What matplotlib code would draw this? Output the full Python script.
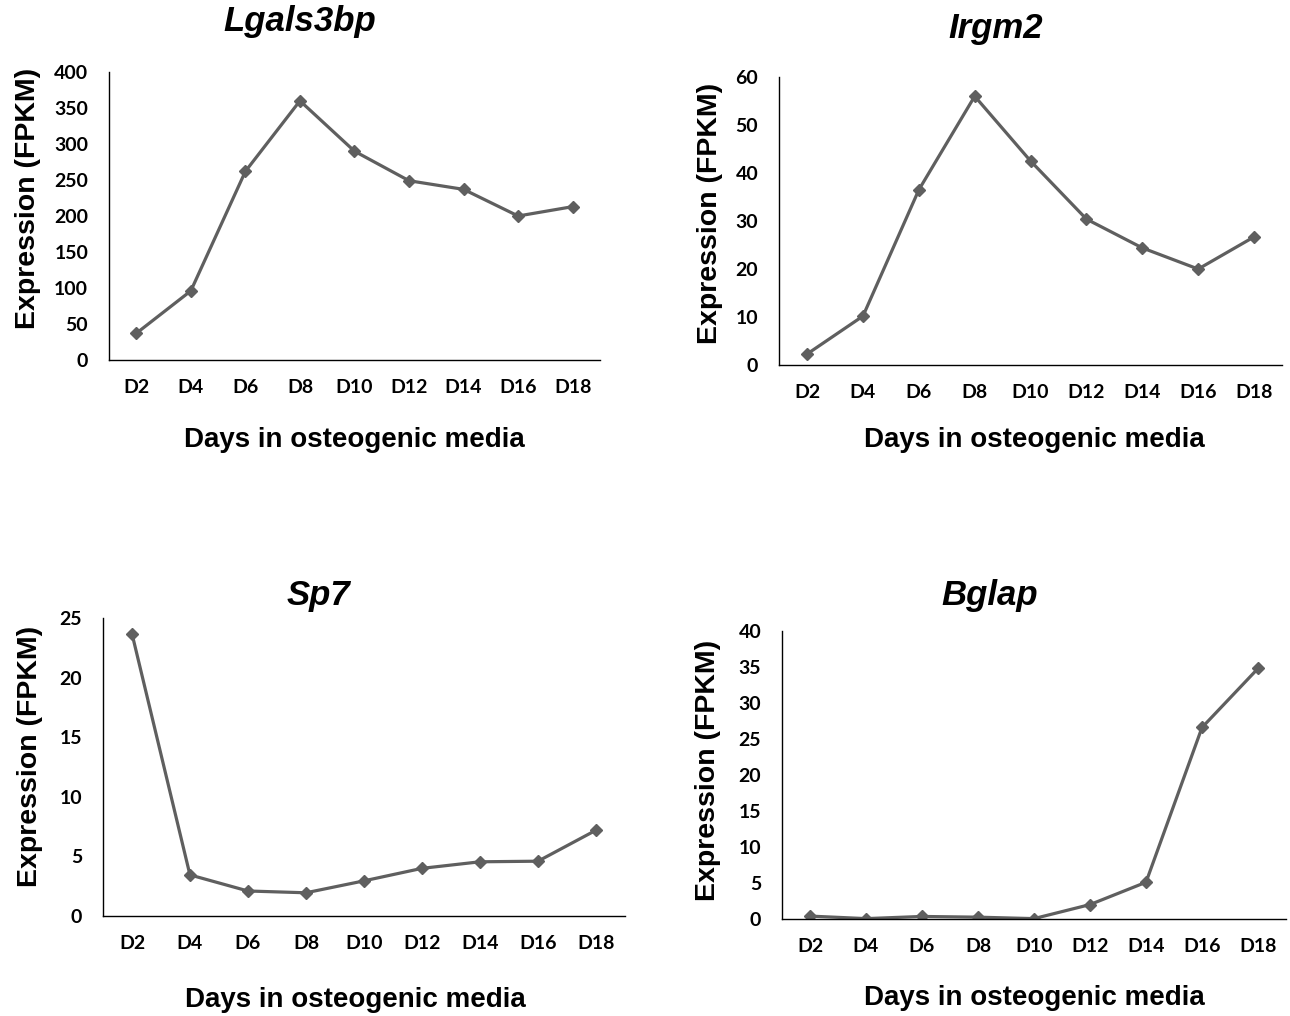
import matplotlib
matplotlib.use("Agg")
import matplotlib.pyplot as plt

### data
days = ["D2", "D4", "D6", "D8", "D10", "D12", "D14", "D16", "D18"]

lgals3bp = [37, 96, 262, 360, 290, 249, 237, 200, 213]
irgm2 = [2.3, 10.2, 36.5, 56, 42.5, 30.4, 24.4, 20, 26.7]
sp7 = [23.7, 3.45, 2.1, 1.95, 2.95, 4.0, 4.55, 4.6, 7.2]
bglap = [0.4, 0.05, 0.35, 0.25, 0.05, 2.0, 5.1, 26.6, 34.8]

line_color = "#5f5f5f"
tick_font = "Lato"
label_font = ["Liberation Sans", "DejaVu Sans"]

fig = plt.figure(figsize=(12.9, 10.16), dpi=100)

# name, values, ymax, ystep, axes rect, title pos, ylabel pos, xlabel pos
panels = [
    ("Lgals3bp", lgals3bp, 400, 50, [0.0845, 0.6457, 0.3806, 0.2834],
     (0.389, 1.174), (-0.165, 0.5625), (0.50, -0.278)),
    ("Irgm2", irgm2, 60, 10, [0.604, 0.6407, 0.3898, 0.2835],
     (0.431, 1.17), (-0.137, 0.528), (0.507, -0.26)),
    ("Sp7", sp7, 25, 5, [0.0798, 0.0984, 0.4047, 0.2933],
     (0.412, 1.077), (-0.14, 0.534), (0.483, -0.282)),
    ("Bglap", bglap, 40, 5, [0.6062, 0.0955, 0.3907, 0.2834],
     (0.413, 1.125), (-0.147, 0.517), (0.5, -0.274)),
]

for name, vals, ymax, ystep, rect, tpos, ypos, xpos in panels:
    ax = fig.add_axes(rect)
    x = list(range(len(days)))
    ax.plot(x, vals, color=line_color, lw=2.3, marker="D", ms=6.5,
            markeredgecolor=line_color, markerfacecolor=line_color)
    ax.set_xlim(-0.5, len(days) - 0.5)
    ax.set_ylim(0, ymax)
    ax.set_yticks(range(0, ymax + 1, ystep))
    ax.set_xticks(x)
    ax.set_xticklabels(days)
    for lab in ax.get_xticklabels() + ax.get_yticklabels():
        lab.set_fontfamily(tick_font)
        lab.set_fontweight("bold")
        lab.set_fontsize(14)
    ax.tick_params(axis="x", length=0, pad=14)
    ax.tick_params(axis="y", length=0, pad=15)
    ax.spines["top"].set_visible(False)
    ax.spines["right"].set_visible(False)
    ax.spines["left"].set_linewidth(1.0)
    ax.spines["bottom"].set_linewidth(1.0)
    ax.patch.set_visible(False)

    ax.text(tpos[0], tpos[1], name, transform=ax.transAxes, ha="center", va="center",
            fontsize=25, fontweight="bold", fontstyle="italic", family=label_font)
    ax.text(ypos[0], ypos[1], "Expression (FPKM)", transform=ax.transAxes,
            ha="center", va="center", rotation=90,
            fontsize=20.5, fontweight="bold", family=label_font)
    ax.text(xpos[0], xpos[1], "Days in osteogenic media", transform=ax.transAxes,
            ha="center", va="center",
            fontsize=20, fontweight="bold", family=label_font)

fig.savefig("out.png", dpi=100)
